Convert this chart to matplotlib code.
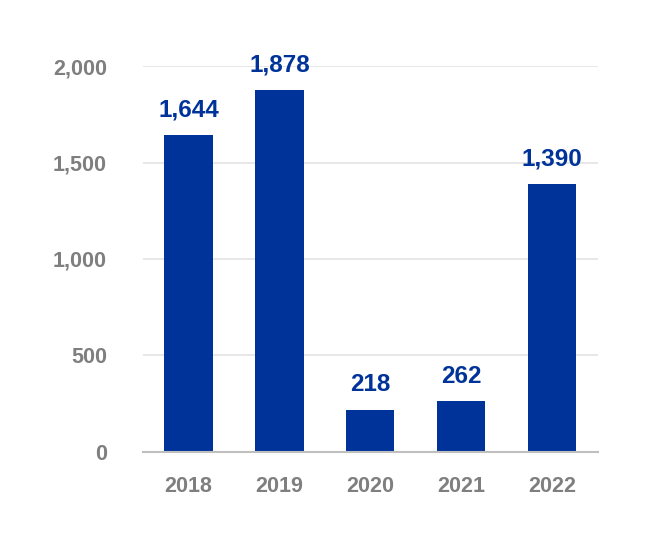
import matplotlib
matplotlib.use("Agg")
import matplotlib.pyplot as plt
from matplotlib.ticker import FuncFormatter

plt.rcParams['font.family'] = ['Liberation Sans', 'DejaVu Sans']
plt.rcParams['font.weight'] = 'bold'

years = ["2018", "2019", "2020", "2021", "2022"]
values = [1644, 1878, 218, 262, 1390]

bar_color = "#003399"
text_gray = "#7f7f7f"

fig = plt.figure(figsize=(6.62, 5.6), dpi=100)
ax = fig.add_axes([0.216, 0.193, 0.687, 0.689])

x = list(range(len(years)))
bars = ax.bar(x, values, width=0.53, color=bar_color, zorder=3)

# 柱顶数值标签
for xi, v in zip(x, values):
    ax.text(xi, v + 70, f"{v:,}", ha="center", va="bottom",
            color=bar_color, fontsize=17.5, fontweight="bold")

ax.set_xlim(-0.5, 4.5)
ax.set_ylim(0, 2000)
ax.set_yticks([0, 500, 1000, 1500, 2000])
ax.yaxis.set_major_formatter(FuncFormatter(lambda v, p: f"{int(v):,}"))
ax.set_xticks(x)
ax.set_xticklabels(years)

ax.grid(axis="y", color="#e3e3e3", linewidth=1.2, zorder=0)
for s in ["top", "right", "left"]:
    ax.spines[s].set_visible(False)
ax.spines["bottom"].set_color("#bfbfbf")
ax.spines["bottom"].set_linewidth(1.5)
ax.spines["bottom"].set_zorder(4)

ax.tick_params(axis="both", length=0, labelsize=15.5, labelcolor=text_gray)
ax.tick_params(axis="y", pad=26)
ax.tick_params(axis="x", pad=17)

fig.savefig("out.png", dpi=100)
